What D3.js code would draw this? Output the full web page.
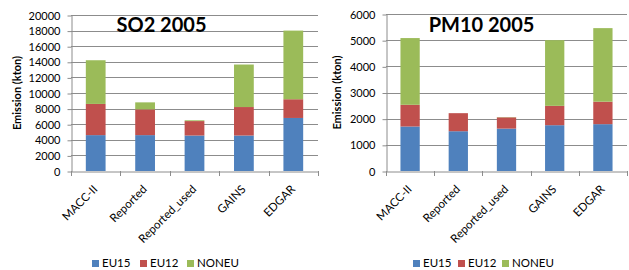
<!DOCTYPE html>
<html>
<head>
<meta charset="utf-8">
<script src="https://d3js.org/d3.v7.min.js"></script>
<style>
  body { margin: 0; background: #fff; }
  svg { display: block; font-family: Lato, "Liberation Sans", sans-serif; }
</style>
</head>
<body>
<svg id="chart" width="629" height="270"></svg>
<script>
// Categories and series (kton)
const sources = ['MACC-II', 'Reported', 'Reported_used', 'GAINS', 'EDGAR'];
const regions = ['EU15', 'EU12', 'NONEU'];
const colors = ['#4F81BD', '#C0504D', '#9BBB59'];

const so2EU15 = [4600, 4600, 4550, 4550, 6800];
const so2EU12 = [4000, 3300, 1850, 3650, 2400];
const so2NONEU = [5600, 900, 100, 5450, 8800];

const pmEU15 = [1700, 1520, 1620, 1750, 1790];
const pmEU12 = [830, 690, 430, 740, 860];
const pmNONEU = [2550, 0, 10, 2510, 2810];

const so2Ticks = [0, 2000, 4000, 6000, 8000, 10000, 12000, 14000, 16000, 18000, 20000];
const pmTicks = [0, 1000, 2000, 3000, 4000, 5000, 6000];

const svg = d3.select('#chart');

function drawPanel(opt) {
  const g = svg.append('g');
  const x = d3.scaleBand().domain(sources).range([opt.x0, opt.x1]).paddingInner(0.6).paddingOuter(0.3);
  const xb = d3.scaleBand().domain(sources).range([opt.x0, opt.x1]);
  const y = d3.scaleLinear().domain([0, opt.max]).range([171, opt.top]);

  // gridlines
  g.selectAll('.grid').data(opt.ticks.slice(1)).enter().append('line')
    .attr('x1', opt.x0).attr('x2', opt.x1)
    .attr('y1', d => Math.round(y(d)) + 0.5).attr('y2', d => Math.round(y(d)) + 0.5)
    .attr('stroke', '#8c8c8c').attr('stroke-width', 1);

  // y axis
  const ya = g.append('g').attr('transform', `translate(${opt.x0 + 0.5},0.5)`)
    .call(d3.axisLeft(y).tickValues(opt.ticks).tickFormat(d3.format('d')).tickSize(4).tickSizeOuter(0).tickPadding(7));
  ya.select('.domain').attr('stroke', '#8c8c8c');
  ya.selectAll('.tick line').attr('stroke', '#8c8c8c');
  ya.selectAll('text').attr('font-size', 11).attr('fill', '#000').attr('font-family', 'Lato, sans-serif');

  // stacked bars
  const rows = sources.map((s, i) => ({ src: s, EU15: opt.data[0][i], EU12: opt.data[1][i], NONEU: opt.data[2][i] }));
  const stacked = d3.stack().keys(regions)(rows);
  stacked.forEach((layer, k) => {
    g.selectAll('.b' + k).data(layer).enter().append('rect')
      .attr('x', d => x(d.data.src))
      .attr('width', x.bandwidth())
      .attr('y', d => y(d[1]))
      .attr('height', d => Math.max(0, y(d[0]) - y(d[1])))
      .attr('fill', colors[k]);
  });

  // x axis
  const xa = g.append('g').attr('transform', `translate(0,171.5)`)
    .call(d3.axisBottom(xb).tickSize(0).tickFormat(''));
  xa.select('.domain').attr('stroke', '#8c8c8c');
  const bounds = sources.map(s => xb(s)).concat([opt.x1]);
  g.selectAll('.xt').data(bounds).enter().append('line')
    .attr('x1', d => Math.round(d) + 0.5).attr('x2', d => Math.round(d) + 0.5)
    .attr('y1', 171).attr('y2', 176).attr('stroke', '#8c8c8c');

  g.selectAll('.xl').data(sources).enter().append('text')
    .attr('transform', d => `translate(${xb(d) + xb.bandwidth() / 2 + 2.5},190) rotate(-45)`)
    .attr('text-anchor', 'end')
    .attr('font-size', 11.5).text(d => d);

  // y title
  g.append('text')
    .attr('transform', `translate(${opt.yt},${(171 + opt.top) / 2}) rotate(-90)`)
    .attr('text-anchor', 'middle').attr('dy', '0.35em')
    .attr('font-size', 11).attr('font-weight', 'bold').text('Emission (kton)');

  // chart title
  g.append('text').attr('x', opt.tx).attr('y', 32)
    .attr('text-anchor', 'middle').attr('font-size', 20).attr('font-weight', 'bold')
    .text(opt.title);

  // legend
  const lg = g.append('g').attr('transform', `translate(${opt.lx},267)`);
  regions.forEach((r, k) => {
    lg.append('rect').attr('x', opt.loffs[k]).attr('y', -7).attr('width', 7).attr('height', 7).attr('fill', colors[k]);
    lg.append('text').attr('x', opt.loffs[k] + 10).attr('y', 0).attr('font-size', 11.5).text(r);
  });
}

drawPanel({ x0: 71, x1: 318, top: 15, max: 20000, ticks: so2Ticks, data: [so2EU15, so2EU12, so2NONEU],
  title: 'SO2 2005', tx: 161.5, yt: 17.5, lx: 92, loffs: [0, 48, 95] });
drawPanel({ x0: 386, x1: 627, top: 14, max: 6000, ticks: pmTicks, data: [pmEU15, pmEU12, pmNONEU],
  title: 'PM10 2005', tx: 481.5, yt: 337.5, lx: 413, loffs: [0, 45, 89] });
</script>
</body>
</html>
